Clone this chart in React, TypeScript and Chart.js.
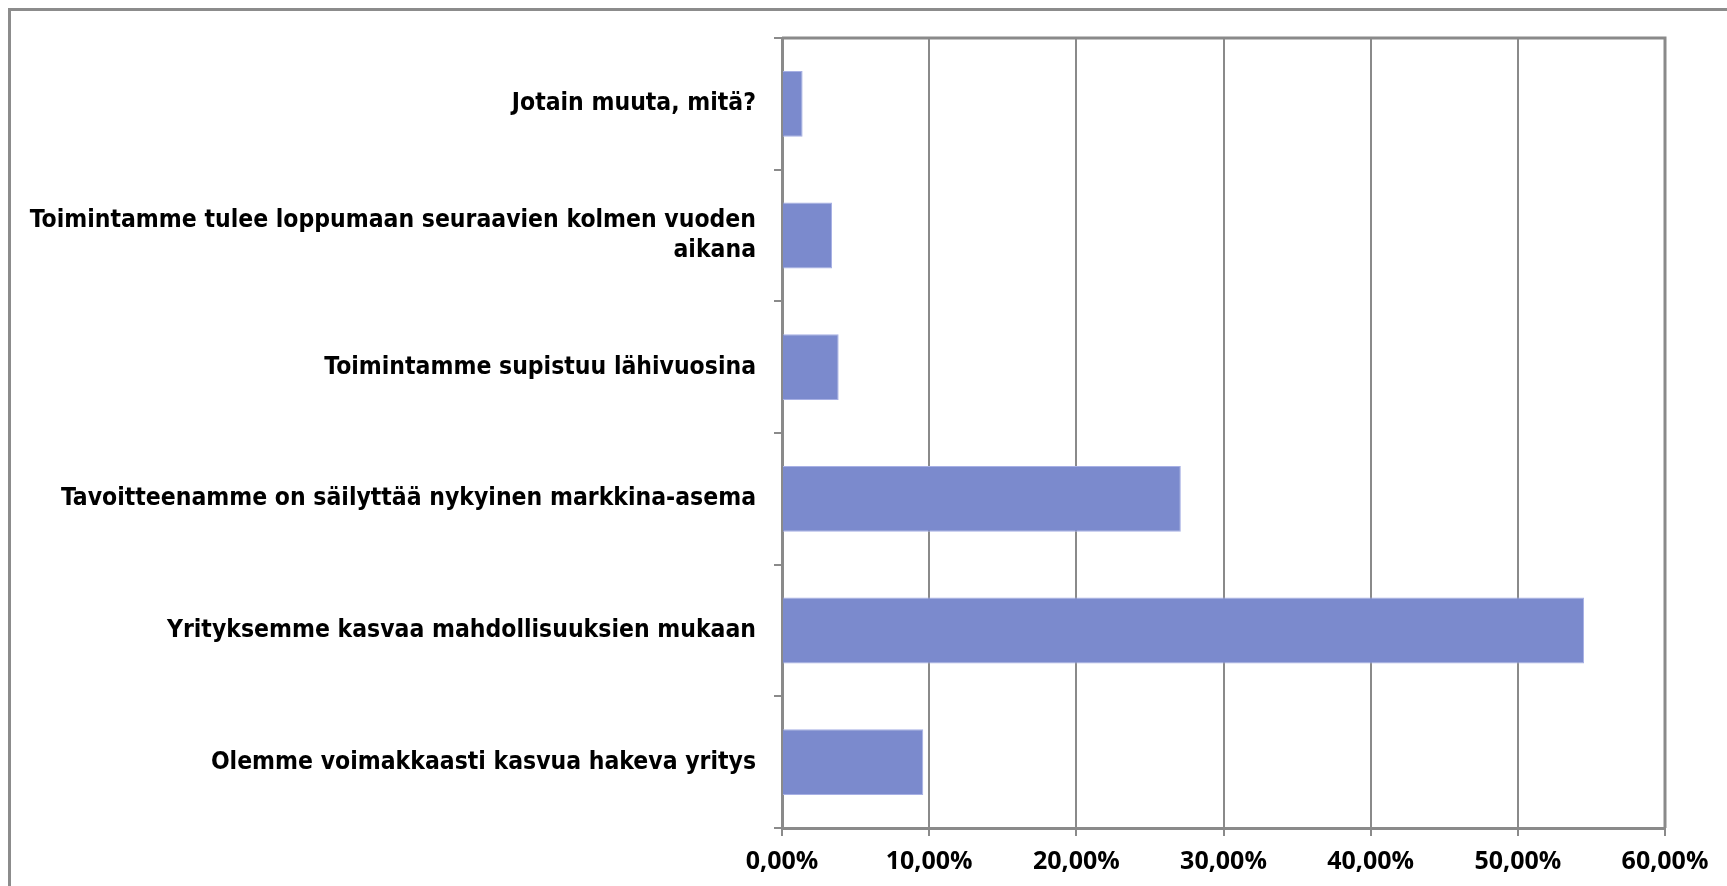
import React, { useEffect, useRef } from "react";
import { Chart, registerables } from "chart.js";

Chart.register(...registerables);

const categories: (string | string[])[] = [
  "Jotain muuta, mitä?",
  ["Toimintamme tulee loppumaan seuraavien kolmen vuoden", "aikana"],
  "Toimintamme supistuu lähivuosina",
  "Tavoitteenamme on säilyttää nykyinen markkina-asema",
  "Yrityksemme kasvaa mahdollisuuksien mukaan",
  "Olemme voimakkaasti kasvua hakeva yritys",
];
const values = [1.4, 3.4, 3.85, 27.1, 54.5, 9.6];
const xMin = 0;
const xMax = 60;
const xStep = 10;

const FONT = "'DejaVu Sans Condensed', 'DejaVu Sans', sans-serif";
const XFONT = "'Open Sans', 'DejaVu Sans', sans-serif";
const GRID = "#8a8a8a";

const frame = {
  id: "frame",
  afterDraw(chart: any) {
    const { ctx, chartArea } = chart;
    ctx.save();
    ctx.strokeStyle = GRID;
    ctx.lineWidth = 3;
    ctx.beginPath();
    ctx.moveTo(chartArea.left, chartArea.top);
    ctx.lineTo(chartArea.right, chartArea.top);
    ctx.lineTo(chartArea.right, chartArea.bottom);
    ctx.stroke();
    ctx.restore();
  },
};

export default function App() {
  const ref = useRef<HTMLCanvasElement>(null);
  useEffect(() => {
    if (!ref.current) return;
    const chart = new Chart(ref.current, {
      type: "bar",
      data: {
        labels: categories,
        datasets: [
          {
            data: values,
            backgroundColor: "#7b8acd",
            borderColor: "#a7b0e4",
            borderWidth: 1,
            categoryPercentage: 1,
            barPercentage: 0.5,
          },
        ],
      },
      options: {
        indexAxis: "y",
        animation: false,
        responsive: true,
        maintainAspectRatio: false,
        layout: { padding: { left: 0, top: 27, right: 62, bottom: 0 } },
        plugins: { legend: { display: false }, tooltip: { enabled: false } },
        scales: {
          x: {
            min: xMin,
            max: xMax,
            afterFit: (s: any) => {
              s.height = 58;
            },
            ticks: {
              stepSize: xStep,
              color: "#000",
              padding: 11,
              font: { family: XFONT, size: 25, weight: "bold" },
              callback: (v: any) => Number(v).toFixed(2).replace(".", ",") + "%",
            },
            grid: { color: GRID, lineWidth: 2, tickLength: 8, tickColor: GRID },
            border: { color: GRID, width: 3 },
          },
          y: {
            afterFit: (s: any) => {
              s.width = 771;
              s.paddingTop = 0;
              s.paddingBottom = 0;
            },
            ticks: {
              color: "#000",
              padding: 18,
              font: { family: FONT, size: 24.5, weight: "bold", lineHeight: 1.25 },
            },
            grid: {
              drawOnChartArea: false,
              color: GRID,
              lineWidth: 2,
              tickLength: 8,
              offset: true,
            },
            border: { color: GRID, width: 3 },
          },
        },
      },
      plugins: [frame],
    });
    return () => chart.destroy();
  }, []);

  return (
    <div
      style={{
        position: "fixed",
        left: 8,
        top: 8,
        right: 0,
        bottom: 0,
        borderTop: "3px solid #8c8c8c",
        borderLeft: "3px solid #8c8c8c",
        boxSizing: "border-box",
        background: "#fff",
      }}
    >
      <div style={{ position: "absolute", left: 0, top: 0, right: 0, bottom: 0 }}>
        <canvas ref={ref} />
      </div>
    </div>
  );
}
